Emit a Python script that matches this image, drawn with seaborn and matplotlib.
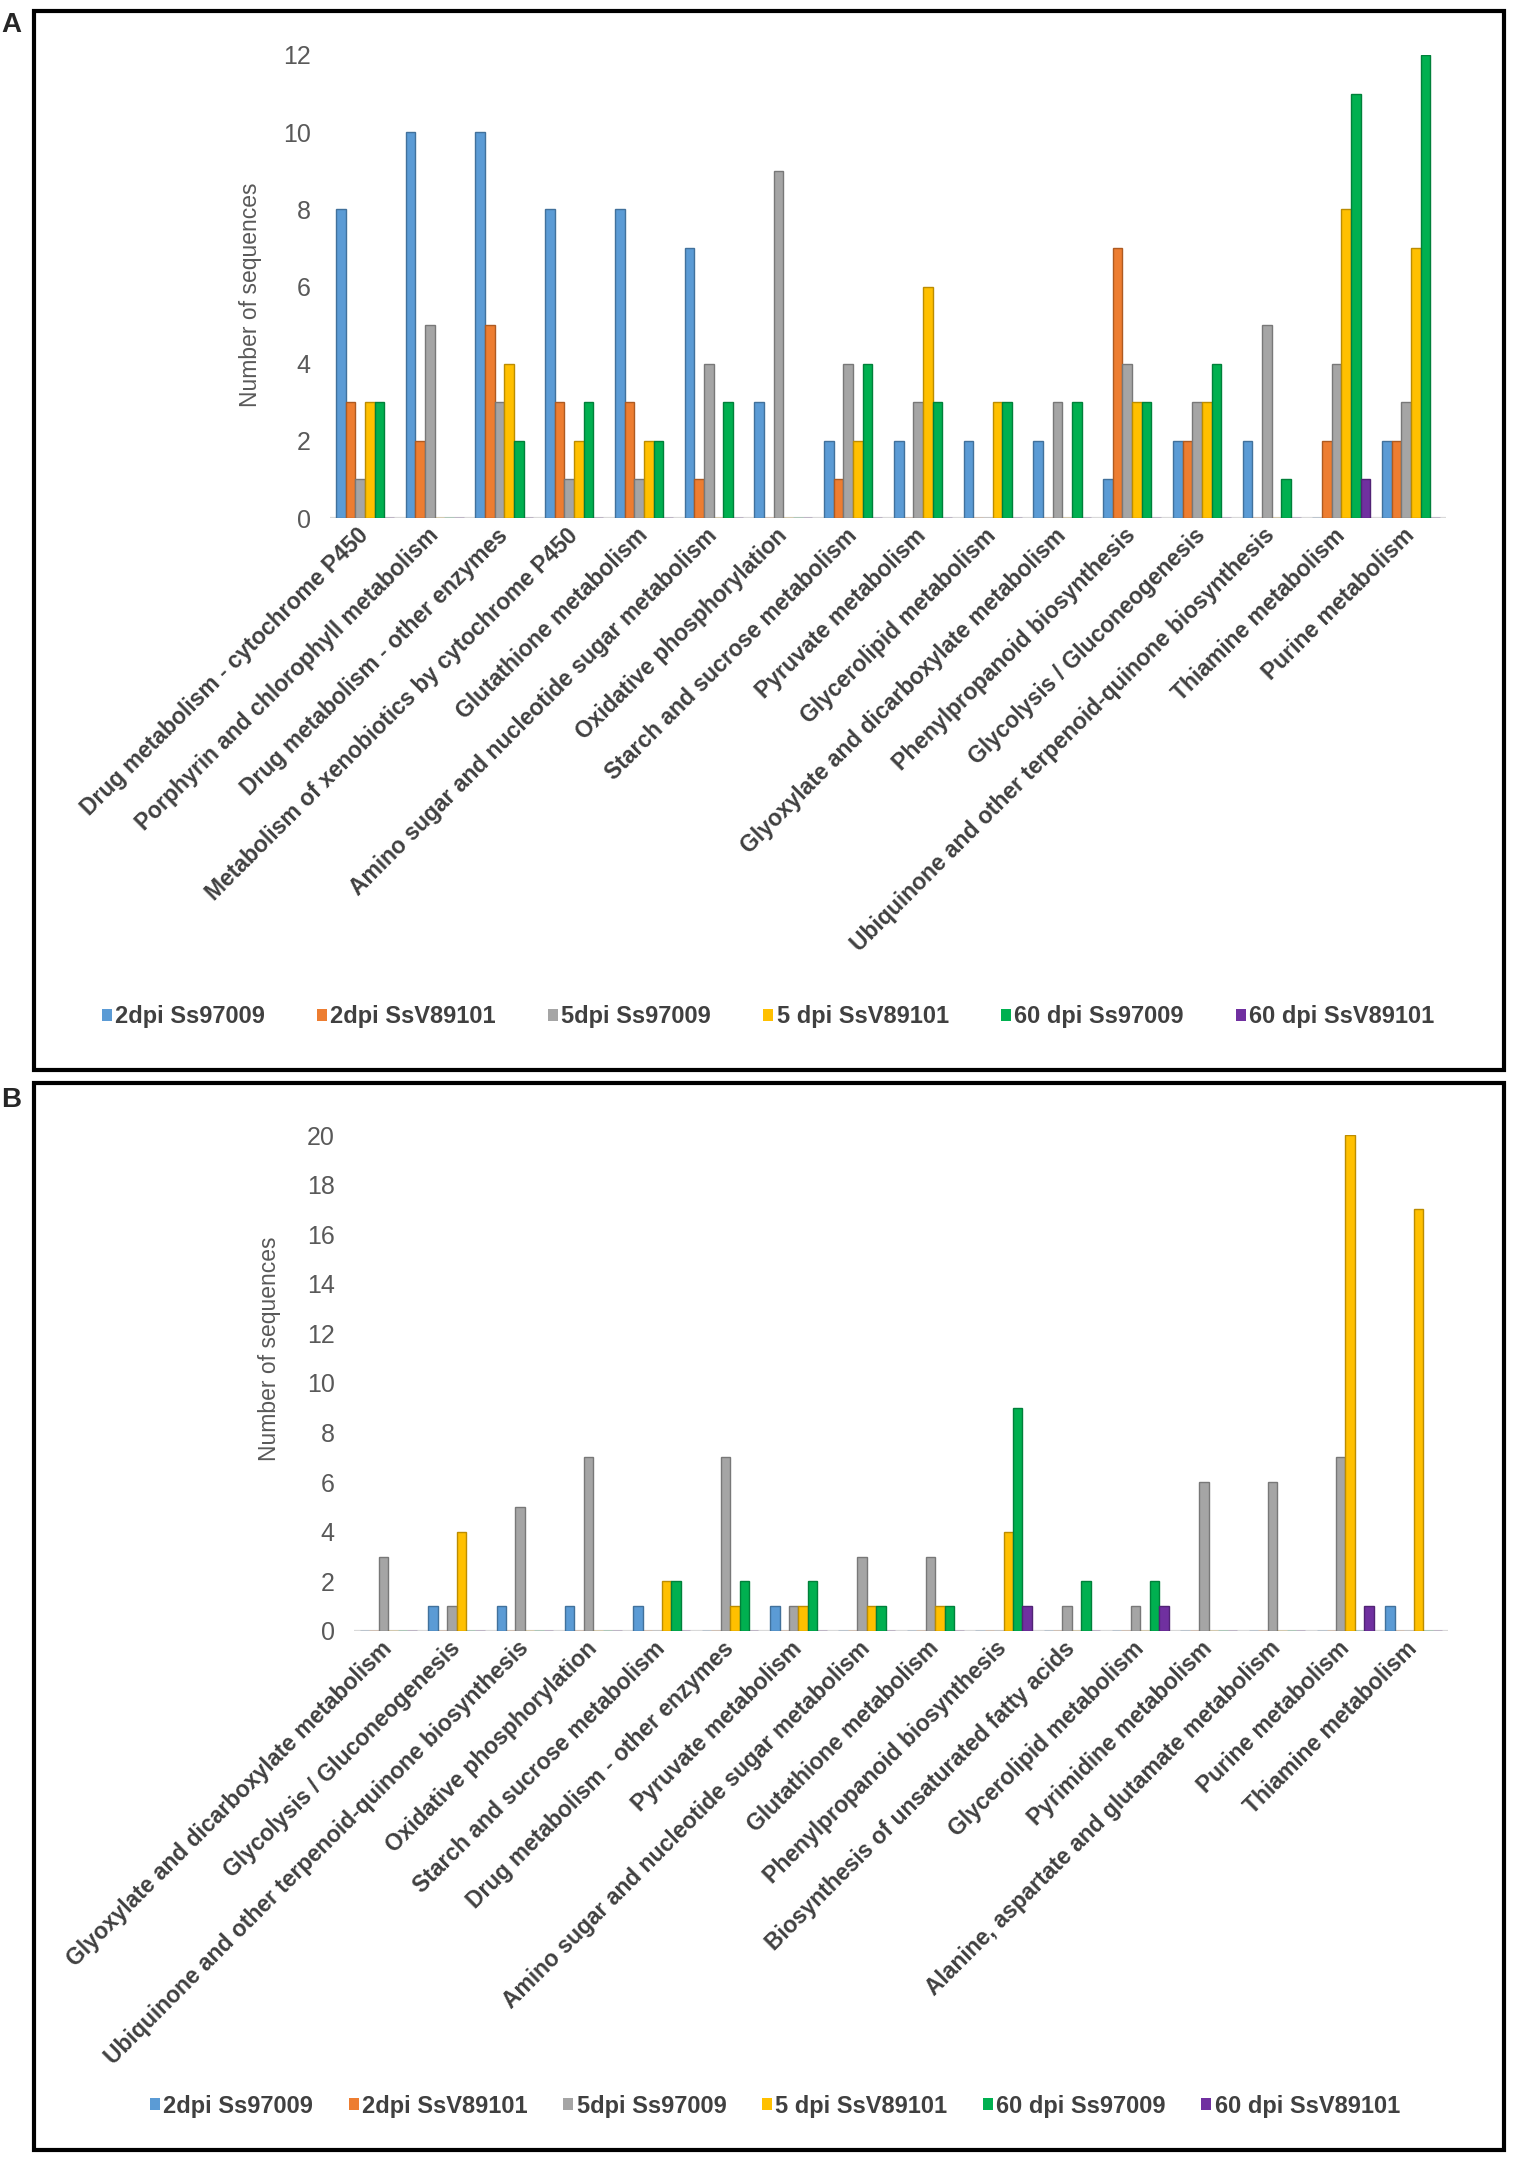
import numpy as np
import pandas as pd
import matplotlib
matplotlib.use("Agg")
import matplotlib.pyplot as plt
from matplotlib.patches import Patch, Rectangle
import seaborn as sns

series = ["2dpi Ss97009", "2dpi SsV89101", "5dpi Ss97009",
          "5 dpi SsV89101", "60 dpi Ss97009", "60 dpi SsV89101"]
colors = ["#5B9BD5", "#ED7D31", "#A5A5A5", "#FFC000", "#00B050", "#7030A0"]
edges = ["#41719C", "#AE5A21", "#787878", "#BC8C00", "#00803A", "#512375"]

# panel A
pathways_a = [
    "Drug metabolism - cytochrome P450",
    "Porphyrin and chlorophyll metabolism",
    "Drug metabolism - other enzymes",
    "Metabolism of xenobiotics by cytochrome P450",
    "Glutathione metabolism",
    "Amino sugar and nucleotide sugar metabolism",
    "Oxidative phosphorylation",
    "Starch and sucrose metabolism",
    "Pyruvate metabolism",
    "Glycerolipid metabolism",
    "Glyoxylate and dicarboxylate metabolism",
    "Phenylpropanoid biosynthesis",
    "Glycolysis / Gluconeogenesis",
    "Ubiquinone and other terpenoid-quinone biosynthesis",
    "Thiamine metabolism",
    "Purine metabolism",
]
a_2dpi_ss97009 = [8, 10, 10, 8, 8, 7, 3, 2, 2, 2, 2, 1, 2, 2, 0, 2]
a_2dpi_ssv89101 = [3, 2, 5, 3, 3, 1, 0, 1, 0, 0, 0, 7, 2, 0, 2, 2]
a_5dpi_ss97009 = [1, 5, 3, 1, 1, 4, 9, 4, 3, 0, 3, 4, 3, 5, 4, 3]
a_5dpi_ssv89101 = [3, 0, 4, 2, 2, 0, 0, 2, 6, 3, 0, 3, 3, 0, 8, 7]
a_60dpi_ss97009 = [3, 0, 2, 3, 2, 3, 0, 4, 3, 3, 3, 3, 4, 1, 11, 12]
a_60dpi_ssv89101 = [0, 0, 0, 0, 0, 0, 0, 0, 0, 0, 0, 0, 0, 0, 1, 0]

# panel B
pathways_b = [
    "Glyoxylate and dicarboxylate metabolism",
    "Glycolysis / Gluconeogenesis",
    "Ubiquinone and other terpenoid-quinone biosynthesis",
    "Oxidative phosphorylation",
    "Starch and sucrose metabolism",
    "Drug metabolism - other enzymes",
    "Pyruvate metabolism",
    "Amino sugar and nucleotide sugar metabolism",
    "Glutathione metabolism",
    "Phenylpropanoid biosynthesis",
    "Biosynthesis of unsaturated fatty acids",
    "Glycerolipid metabolism",
    "Pyrimidine metabolism",
    "Alanine, aspartate and glutamate metabolism",
    "Purine metabolism",
    "Thiamine metabolism",
]
b_2dpi_ss97009 = [0, 1, 1, 1, 1, 0, 1, 0, 0, 0, 0, 0, 0, 0, 0, 1]
b_2dpi_ssv89101 = [0, 0, 0, 0, 0, 0, 0, 0, 0, 0, 0, 0, 0, 0, 0, 0]
b_5dpi_ss97009 = [3, 1, 5, 7, 0, 7, 1, 3, 3, 0, 1, 1, 6, 6, 7, 0]
b_5dpi_ssv89101 = [0, 4, 0, 0, 2, 1, 1, 1, 1, 4, 0, 0, 0, 0, 20, 17]
b_60dpi_ss97009 = [0, 0, 0, 0, 2, 2, 2, 1, 1, 9, 2, 2, 0, 0, 0, 0]
b_60dpi_ssv89101 = [0, 0, 0, 0, 0, 0, 0, 0, 0, 1, 0, 1, 0, 0, 1, 0]

TEXT = "#404040"
TICK = "#595959"
W, H = 1513, 2163


def long_table(pathways, columns):
    rows = []
    for name, vals in zip(series, columns):
        for p, v in zip(pathways, vals):
            rows.append({"pathway": p, "series": name, "count": v})
    return pd.DataFrame(rows)


def draw_panel(ax, pathways, columns, ymax, ylab_xy):
    df = long_table(pathways, columns)
    sns.barplot(data=df, x="pathway", y="count", hue="series",
                hue_order=series, order=pathways, palette=colors,
                width=0.83, ax=ax, legend=False, saturation=1)
    for cont, ec in zip(ax.containers, edges):
        for bar in cont:
            bar.set_edgecolor(ec)
            bar.set_linewidth(1.0)
    ax.axhline(0, color="#D9D9D9", lw=1.6, zorder=0)
    ax.set_ylim(0, ymax)
    ax.set_yticks(np.arange(0, ymax + 1, 2))
    ax.tick_params(axis="y", length=0, pad=14, labelsize=18, labelcolor=TICK)
    ax.tick_params(axis="x", length=0, pad=10)
    ax.set_xticks(range(len(pathways)))
    ax.set_xticklabels(pathways, rotation=45, ha="right", va="center",
                       rotation_mode="anchor", fontsize=16.5,
                       fontweight="bold", color=TEXT)
    ax.set_xlabel("")
    ax.set_ylabel("Number of sequences", fontsize=16.5, color=TICK)
    ax.yaxis.set_label_coords(*ylab_xy)
    for s in ax.spines.values():
        s.set_visible(False)


sns.set_style("white")
plt.rcParams["font.family"] = ["Liberation Sans", "DejaVu Sans"]

fig = plt.figure(figsize=(W / 100, H / 100), dpi=100)


def fig_axes(left, right, top, bottom):
    return fig.add_axes([left / W, 1 - bottom / H, (right - left) / W, (bottom - top) / H])


ax_a = fig_axes(330, 1446, 55, 518)
draw_panel(ax_a, pathways_a,
           [a_2dpi_ss97009, a_2dpi_ssv89101, a_5dpi_ss97009,
            a_5dpi_ssv89101, a_60dpi_ss97009, a_60dpi_ssv89101],
           12, (-0.061, 0.483))

ax_b = fig_axes(354, 1448, 1135, 1631)
draw_panel(ax_b, pathways_b,
           [b_2dpi_ss97009, b_2dpi_ssv89101, b_5dpi_ss97009,
            b_5dpi_ssv89101, b_60dpi_ss97009, b_60dpi_ssv89101],
           20, (-0.067, 0.569))

handles = [Patch(facecolor=c, edgecolor="none") for c in colors]
for yc, xc, cs in [(1017, 768, 2.2), (2106, 775, 1.5)]:
    leg = fig.legend(handles, series, loc="center",
                     bbox_to_anchor=(xc / W, 1 - yc / H), ncol=6,
                     frameon=False, handlelength=0.42, handleheight=0.42,
                     handletextpad=0.15, columnspacing=cs,
                     prop={"size": 17, "weight": "bold"})
    for t in leg.get_texts():
        t.set_color(TEXT)

# panel frames
for top, bottom in [(11, 1070), (1083, 2150)]:
    fig.add_artist(Rectangle((34 / W, 1 - bottom / H), (1504 - 34) / W,
                             (bottom - top) / H, transform=fig.transFigure,
                             fill=False, edgecolor="black", lw=3))

fig.text(11 / W, 1 - 25 / H, "A", fontsize=20, fontweight="bold",
         ha="center", va="center")
fig.text(11 / W, 1 - 1100 / H, "B", fontsize=20, fontweight="bold",
         ha="center", va="center")

fig.savefig("out.png", dpi=100, facecolor="white")
